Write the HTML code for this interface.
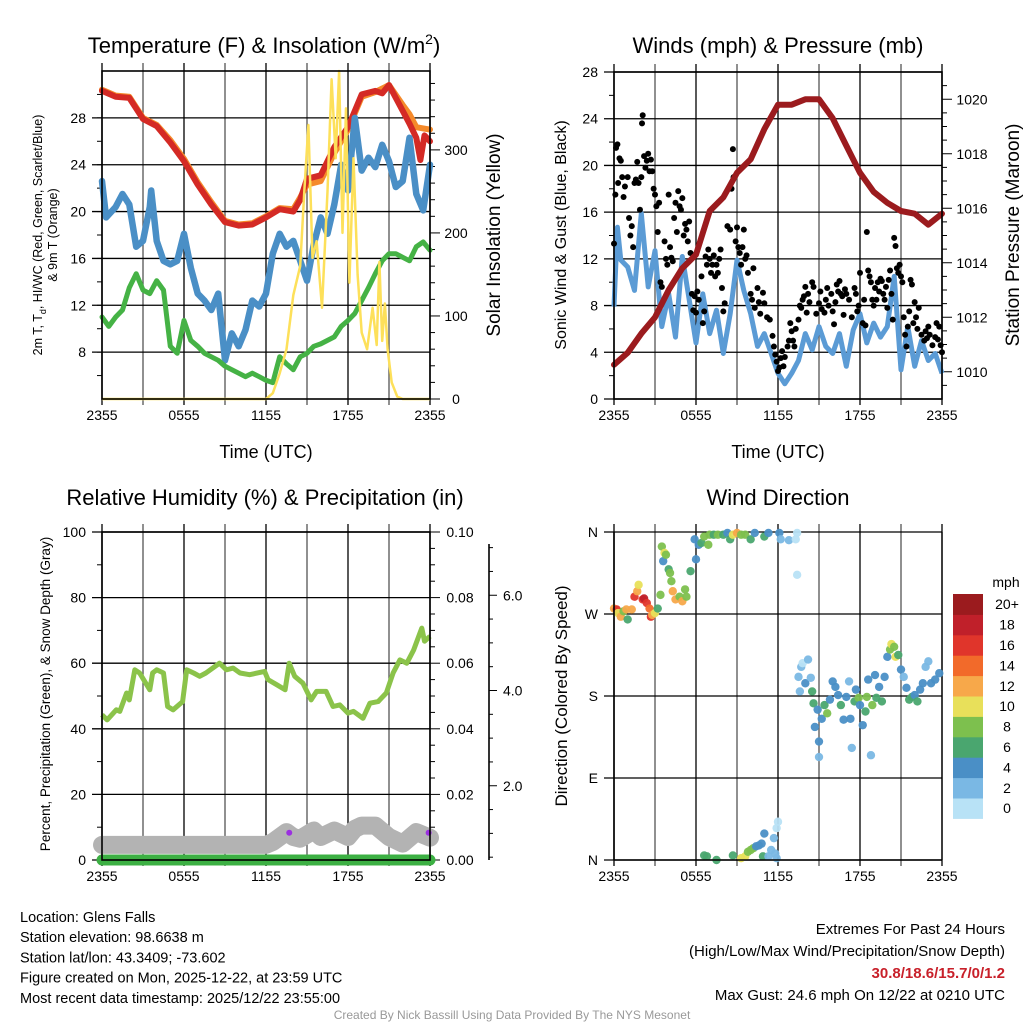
<!DOCTYPE html>
<html><head><meta charset="utf-8">
<style>
html,body{margin:0;padding:0;background:#fff;}
svg{display:block;font-family:"Liberation Sans",Arial,sans-serif;}
</style></head>
<body>
<svg id="c" width="1024" height="1024" viewBox="0 0 1024 1024" xmlns="http://www.w3.org/2000/svg">
<rect width="1024" height="1024" fill="#fff"/>
<g id="root"></g>
</svg>
<script>
// ---------- data ----------
const timeTicks = ["2355","0555","1155","1755","2355"];
const tempRed = [[0,30.3],[1,29.8],[2,29.7],[3,27.9],[4,27.3],[5,25.9],[6,24.3],[7,22.3],[8,20.6],[9,19.1],[10,18.8],[11,18.9],[12,19.5],[13,20.2],[14,20.0],[14.5,21],[15,22.8],[16,23.1],[17,25.5],[18,27.2],[19,30.0],[20,30.3],[20.5,30.1],[21,30.8],[22,28.6],[22.5,27.5],[23,26.3],[23.3,24.4],[23.6,26.5],[24,26.0]];
const temp9m = [[0,30.4],[1,29.9],[2,29.8],[3,28.0],[4,27.4],[5,26.1],[6,24.5],[7,22.5],[8,20.8],[9,19.2],[10,18.9],[11,19.0],[12,19.6],[13,20.3],[14,20.2],[14.5,21.2],[15,22.3],[16,22.6],[17,25.0],[18,27.0],[19,29.8],[20,30.2],[21,30.8],[22,29.1],[22.5,28.3],[23,27.2],[23.5,27.1],[24,27.0]];
const tempBlue = [[0,22.6],[0.3,19.5],[1,20.4],[1.5,21.5],[2,20.6],[2.5,17.0],[3,17.5],[3.5,20.4],[3.6,21.8],[4,17.5],[4.5,15.8],[5,15.5],[5.5,15.8],[6,18.1],[6.5,15.2],[7,13.0],[7.5,12.4],[8,11.6],[8.5,13.0],[9,7.3],[9.5,9.6],[10,8.5],[10.5,9.9],[11,12.4],[11.5,11.9],[12,13.0],[12.5,16.4],[13,18.1],[13.5,17.0],[14,17.5],[14.5,15.8],[15,14.1],[15.5,17.2],[16,19.5],[16.5,18.1],[17,20.6],[17.5,24.0],[18,21.8],[18.5,28.0],[19,23.5],[19.5,24.6],[20,23.8],[20.5,25.7],[21,24.3],[21.5,22.1],[22,22.6],[22.5,26.3],[23,21.5],[23.5,20.1],[24,24.0]];
const tempGreen = [[0,11.0],[0.5,10.2],[1,11.0],[1.5,11.6],[2,13.5],[2.5,14.7],[3,13.3],[3.5,13.0],[4,14.1],[4.5,13.3],[5,8.5],[5.5,7.9],[6,10.7],[6.5,9.0],[7,8.5],[7.5,7.9],[8,7.6],[8.5,7.3],[9,6.8],[9.5,6.5],[10,6.2],[10.5,5.9],[11,6.2],[11.5,5.9],[12,5.6],[12.5,5.4],[13,7.6],[13.5,7.0],[14,6.5],[14.5,7.6],[15,7.9],[15.5,8.5],[16,8.7],[16.5,9.0],[17,9.3],[17.5,10.2],[18,10.7],[18.5,11.3],[19,12.4],[19.5,13.5],[20,14.7],[20.5,15.8],[21,16.4],[21.5,16.4],[22,16.1],[22.5,15.8],[23,17.0],[23.5,17.4],[24,16.7]];
const insolation = [[0,0],[12,0],[12.5,7],[13,31],[13.5,60],[14,125],[14.5,160],[14.8,250],[15.1,330],[15.4,170],[15.7,190],[16.1,110],[16.5,250],[16.8,385],[17.1,290],[17.35,395],[17.6,200],[17.85,350],[18.1,140],[18.4,290],[18.7,150],[19.0,80],[19.4,60],[19.8,110],[20.1,65],[20.3,165],[20.5,70],[20.7,115],[20.9,60],[21.2,20],[21.6,3],[22,0],[24,0]];
const tempTicks = [8,12,16,20,24,28];
const insolTicks = [0,100,200,300];
const pressure = [[0,1010.26],[1,1010.7],[2,1011.4],[3,1012.0],[4,1013.0],[5,1013.8],[6,1014.3],[7,1015.9],[8,1016.4],[9,1017.3],[10,1017.8],[11,1018.9],[12,1019.8],[13,1019.8],[14,1020.0],[15,1020.0],[16,1019.3],[17,1018.3],[18,1017.3],[19,1016.6],[20,1016.2],[21,1015.9],[22,1015.8],[23,1015.4],[23.5,1015.6],[24,1015.8]];
const windSpeed = [[0,7.9],[0.25,14.7],[0.5,11.9],[1,11.3],[1.5,9.3],[2,15.9],[2.5,9.6],[3,12.7],[3.5,6.2],[4,9.0],[4.5,5.3],[5,12.2],[5.5,8.5],[6,4.8],[6.5,9.0],[7,5.6],[7.5,7.6],[8,3.9],[8.5,7.3],[9,11.9],[9.5,9.3],[10,7.3],[10.5,4.5],[11,5.6],[11.5,3.9],[12,2.2],[12.5,1.3],[13,2.2],[13.5,3.3],[14,5.6],[14.5,4.2],[15,6.2],[15.5,4.5],[16,3.9],[16.5,5.6],[17,2.8],[17.5,5.9],[18,7.3],[18.5,4.8],[19,6.5],[19.5,5.3],[20,6.2],[20.5,10.5],[21,2.5],[21.5,6.2],[22,2.8],[22.5,5.0],[23,3.3],[23.5,3.9],[24,2.2]];
const windGust = [[0,13.3],[0.1,17.5],[0.15,21.5],[0.25,21.8],[0.3,18.5],[0.4,20.6],[0.5,20.4],[0.6,19],[0.7,17.3],[0.8,18.2],[1,19],[1.1,15.5],[1.2,14],[1.3,14.8],[1.4,13],[1.5,18.5],[1.6,18.8],[1.7,20.3],[1.8,18.5],[1.9,16.2],[2,19],[2.05,23.6],[2.1,24.3],[2.2,20.8],[2.3,19.8],[2.4,20.4],[2.5,21],[2.6,19.5],[2.7,20.5],[2.8,19.5],[2.9,18],[3,17.5],[3.1,16.5],[3.2,14.3],[3.3,16.8],[3.4,10],[3.5,9.6],[3.7,13.5],[3.8,12],[3.9,11.5],[4,17.5],[4.1,13],[4.2,12.1],[4.3,11.8],[4.4,15.5],[4.5,16.8],[4.6,14.3],[4.7,17.8],[4.8,16.5],[4.9,16.2],[5,17.2],[5.1,14],[5.2,15],[5.3,14.5],[5.4,13.5],[5.5,15.2],[5.6,12.5],[5.7,9],[5.8,7.6],[5.9,8.8],[6,7.4],[6.1,9.2],[6.2,8.5],[6.4,10.5],[6.5,6.5],[6.6,7.5],[6.7,12.2],[6.8,11.5],[6.9,12.8],[7,12],[7.1,10.8],[7.2,11.5],[7.3,12.3],[7.4,10.5],[7.5,11.5],[7.6,10.8],[7.7,12],[7.8,12.8],[7.9,9.5],[8,7.5],[8.1,8.2],[8.3,14.8],[8.5,14.5],[8.6,18],[8.7,21.4],[8.75,19],[8.9,13.5],[9,14.7],[9.1,13],[9.2,12.5],[9.3,11.5],[9.4,13],[9.5,14.5],[9.6,12],[9.7,12.3],[9.8,10.8],[10,9],[10.1,8.5],[10.2,11.2],[10.3,7.8],[10.5,9.5],[10.6,8.3],[10.7,7.3],[10.9,9.1],[11,8.2],[11.2,7],[11.4,6.8],[11.6,5.4],[11.7,4.5],[11.8,3.8],[11.9,3.2],[12,2.4],[12.1,2.7],[12.2,3.5],[12.3,4.1],[12.4,2.8],[12.5,3.6],[12.7,4.5],[12.8,5],[12.9,6.5],[13,5.8],[13.1,5],[13.2,4.5],[13.3,6],[13.5,6.8],[13.6,8],[13.7,7.8],[13.8,8.5],[13.9,8.8],[14,9.6],[14.1,7.4],[14.2,9],[14.3,8.3],[14.5,10],[14.6,9.6],[14.8,7.3],[15,8.2],[15.1,9.2],[15.2,7.7],[15.4,7.4],[15.5,8.5],[15.6,9.5],[15.7,8],[15.9,9],[16,7.5],[16.1,6.4],[16.2,8.3],[16.3,9.8],[16.4,9.2],[16.5,10.1],[16.6,9],[16.7,8.8],[16.8,7.2],[16.9,9.4],[17,9],[17.2,8.5],[17.4,7],[17.6,9.5],[17.7,9],[17.8,7.5],[17.9,8],[18,10.8],[18.2,6.5],[18.3,8.5],[18.4,6.3],[18.5,14.3],[18.6,11],[18.7,10.5],[18.8,10],[18.9,8.5],[19,8],[19.1,9.5],[19.2,8.5],[19.3,10],[19.4,9.2],[19.5,10.3],[19.6,10.1],[19.7,9],[19.8,8.5],[19.9,9.6],[20,7.8],[20.1,10.2],[20.2,11],[20.3,9],[20.4,6.8],[20.5,13.8],[20.6,13.1],[20.7,11.2],[20.8,10.8],[20.9,11.5],[21,10.5],[21.1,10],[21.2,7],[21.3,5.5],[21.4,4.5],[21.5,6.2],[21.6,7.5],[21.7,10.2],[21.8,9.8],[21.9,6.5],[22,8.3],[22.1,7],[22.2,6],[22.3,7.8],[22.5,5.5],[22.7,5],[22.8,5.8],[22.9,5.2],[23,6.2],[23.1,5.5],[23.3,4.6],[23.5,5.3],[23.6,6.5],[23.7,5.1],[23.8,6.2],[23.9,4.6],[24,4]];
const windTicks = [0,4,8,12,16,20,24,28];
const pressTicks = [1010,1012,1014,1016,1018,1020];
const rh = [[0,44.3],[0.37,42.7],[1.05,45.8],[1.3,45.3],[1.8,50.9],[2.0,48.8],[2.4,58],[2.75,57],[3.5,51.9],[3.7,57],[4.0,58],[4.5,57],[4.8,46.8],[5.2,45.8],[5.9,48.3],[6.2,58],[6.7,57],[7.15,56],[7.6,57],[8.6,60],[9.1,58],[9.6,58.5],[10.1,57],[10.8,56.5],[11.9,57.5],[12.15,55],[12.8,53.4],[13.4,51.9],[13.7,60],[14.1,56],[14.7,53.9],[15.3,48.8],[15.7,51.4],[16.4,51.4],[16.9,46.8],[17.4,47.3],[18.0,44.8],[18.4,45.3],[19.1,43.2],[19.6,47.8],[20.2,48.3],[20.8,50.9],[21.3,57],[21.8,61],[22.3,60],[22.8,64],[23.4,70.7],[23.6,66.7],[24,68.2]];
const precip = [[0,0],[24,0]];
const snowDepth = [[0,4.6],[12,4.6],[12.5,5.5],[13.5,8.5],[14,7],[14.5,6.5],[15.5,9],[16,7],[17,9],[18,7],[18.5,9.5],[19,10.5],[20,10.5],[21,7],[22,5],[23,8.5],[24,6.8]];
const rhTicks = [0,20,40,60,80,100];
const precipTicks = ["0.00","0.02","0.04","0.06","0.08","0.10"];
const snowTicks = ["2.0","4.0","6.0"];
const windDir = [[0,276,12],[0.2,275,16],[0.3,271,10],[0.5,267,12],[0.7,273,9],[0.9,275,12],[1.0,264,7],[1.3,275,12],[1.5,289,16],[1.7,295,12],[1.8,302,10],[2.1,286,16],[2.2,287,18],[2.4,282,16],[2.6,276,14],[2.7,267,16],[2.8,269,12],[3.0,271,10],[3.2,276,6],[3.4,291,8],[3.5,344,8],[3.6,328,4],[3.7,337,10],[3.8,335,8],[4.0,319,6],[4.1,315,8],[4.2,306,8],[4.3,295,12],[4.5,286,12],[4.8,289,8],[5.0,284,12],[5.2,297,8],[5.3,289,8],[5.6,317,6],[5.9,352,4],[6.0,330,4],[6.2,346,4],[6.4,348,6],[6.6,355,8],[6.9,346,8],[7.0,357,8],[7.3,357,6],[7.6,357,8],[8.0,357,6],[8.3,359,4],[8.5,352,6],[8.7,357,10],[9.0,359,12],[9.3,357,8],[9.6,357,8],[10.0,352,6],[10.3,359,4],[11.0,355,6],[11.3,359,4],[12.1,359,4],[12.2,352,2],[12.8,351,2],[13.3,352,0],[13.4,359,0],[13.4,313,0],
[6.6,5,6],[6.8,4,6],[7.5,0,6],[8.7,5,6],[9.3,2,10],[9.6,4,10],[9.8,9,8],[10.0,11,8],[10.2,13,8],[10.4,15,4],[10.6,16,4],[10.8,18,4],[11.0,29,4],[10.9,4,6],[11.3,4,2],[11.5,11,2],[11.7,24,2],[11.9,35,0],[12.0,42,0],[11.8,7,2],[11.9,2,2],
[13.5,201,2],[13.6,185,2],[13.7,212,2],[13.8,216,0],[14.0,194,4],[14.2,220,2],[14.4,200,2],[14.5,185,6],[14.6,172,6],[14.7,146,4],[14.9,165,4],[15.0,130,4],[15.0,113,2],[15.2,155,4],[15.4,170,6],[15.6,161,8],[15.8,176,4],[16.0,196,4],[16.2,190,4],[16.4,181,4],[16.6,170,6],[16.8,154,4],[17.0,179,4],[17.2,196,2],[17.3,155,4],[17.4,123,2],[17.6,174,6],[17.7,187,4],[17.9,178,8],[18.0,170,4],[18.2,148,4],[18.4,163,6],[18.5,179,8],[18.6,198,4],[18.8,115,2],[18.9,170,8],[19.1,203,4],[19.2,178,6],[19.4,190,4],[19.6,174,6],[19.8,201,4],[20.0,223,4],[20.2,231,8],[20.3,237,10],[20.5,234,8],[20.6,223,10],[20.8,225,6],[21.0,209,4],[21.2,201,2],[21.4,189,4],[21.6,176,6],[21.8,179,6],[22.0,181,4],[22.2,174,6],[22.4,187,4],[22.6,194,4],[22.8,212,2],[23.0,218,2],[23.2,194,4],[23.5,198,4],[23.8,205,4]];
const dirLabels = ["N","E","S","W","N"];
const speedLabels = ["0","2","4","6","8","10","12","14","16","18","20+"];
const speedColors = ["#b8e2f6","#7ab8e4","#4a8fc6","#4aa66f","#7dc04e","#e8e05a","#f7a84a","#f26a2a","#e0352b","#c0202a","#9b1b1e"];

// ---------- drawing ----------
const NS="http://www.w3.org/2000/svg";
const root=document.getElementById('root');
function el(tag,attrs,parent){const e=document.createElementNS(NS,tag);for(const k in attrs)e.setAttribute(k,attrs[k]);(parent||root).appendChild(e);return e;}
function txt(s,attrs,parent){const e=el('text',attrs,parent);e.textContent=s;return e;}
function lin(d0,d1,r0,r1){return v=>r0+(v-d0)/(d1-d0)*(r1-r0);}
function pathOf(data,fx,fy){return data.map((p,i)=>(i?'L':'M')+fx(p[0]).toFixed(1)+','+fy(p[1]).toFixed(1)).join('');}

function frame(L,R,T,B,name){
  const g=el('g',{});
  
  
  const fx=lin(0,24,L,R);
  for(let h=0;h<=24;h+=3){
    const x=fx(h);
    el('line',{x1:x,y1:T-8,x2:x,y2:B+6,stroke:(h%6===0)?'#000':'#555','stroke-width':1.3},g);
  }
  timeTicks.forEach((t,i)=>{
    const tl=txt(t,{x:fx(i*6),y:B+21,'font-size':14,'text-anchor':'middle'},g);
    
    
  });
  return {g,fx};
}
function hgrid(g,L,R,ys){ys.forEach(y=>el('line',{x1:L-10,y1:y,x2:R,y2:y,stroke:'#000','stroke-width':1.3},g));}
function border(g,L,R,T,B){el('rect',{x:L,y:T,width:R-L,height:B-T,fill:'none',stroke:'#000','stroke-width':1.6},g);}

// ===== Panel 1 =====
(function(){
  const L=102,R=430,T=71,B=399;
  const {g,fx}=frame(L,R,T,B,'temperature-panel');
  const fy=lin(4,32,B,T), fyr=lin(0,395,B,T);
  hgrid(g,L,R,tempTicks.map(fy));
  for(let v=6;v<=30;v+=2){el('line',{x1:L-5,y1:fy(v),x2:L,y2:fy(v),stroke:'#000'},g);}
  tempTicks.forEach(v=>{const t=txt(v,{x:L-16,y:fy(v)+5,'font-size':14,'text-anchor':'end'},g);});
  for(let v=0;v<=380;v+=20){el('line',{x1:R,y1:fyr(v),x2:R+(v%100===0?10:5),y2:fyr(v),stroke:'#000'},g);}
  insolTicks.forEach(v=>{const t=txt(v,{x:R+26,y:fyr(v)+5,'font-size':14,'text-anchor':'middle'},g);});
  const s=[[temp9m,'#f58a2b',6,'orange-9m-temp-line'],[tempRed,'#d42a25',6,'red-2m-temp-line'],[tempBlue,'#4a8fc6',6.5,'blue-windchill-line'],[tempGreen,'#45b245',5,'green-dewpoint-line']];
  s.forEach(([d,c,w,n])=>{const p=el('path',{d:pathOf(d,fx,fy),fill:'none',stroke:c,'stroke-width':w,'stroke-linejoin':'round','stroke-linecap':'round'},g);});
  const ip=el('path',{d:pathOf(insolation,fx,fyr),fill:'none',stroke:'#fde05a','stroke-width':2.5,'stroke-linejoin':'round'},g);
  
  
  border(g,L,R,T,B);
  const t1=txt('Temperature (F) & Insolation (W/m',{x:264,y:53,'font-size':22,'text-anchor':'middle'},g);
  
  const sup=el('tspan',{dy:-9,'font-size':14},t1);sup.textContent='2';
  const cl=el('tspan',{dy:9},t1);cl.textContent=')';
  const xt=txt('Time (UTC)',{x:266,y:458,'font-size':18,'text-anchor':'middle'},g);
  
  const yl=txt('',{x:0,y:0,'font-size':12.5,'text-anchor':'middle',transform:'translate(42,235) rotate(-90)'},g);
  
  yl.innerHTML='2m T, T<tspan dy="4" font-size="9">d</tspan><tspan dy="-4">, HI/WC (Red, Green, Scarlet/Blue)</tspan>';
  const yl2=txt('& 9m T (Orange)',{x:0,y:0,'font-size':12.5,'text-anchor':'middle',transform:'translate(57,235) rotate(-90)'},g);
  
  const yr=txt('Solar Insolation (Yellow)',{x:0,y:0,'font-size':19,'text-anchor':'middle',transform:'translate(500,235) rotate(-90)'},g);
  
})();

// ===== Panel 2 =====
(function(){
  const L=614,R=942,T=72,B=399;
  const {g,fx}=frame(L,R,T,B,'winds-panel');
  const fy=lin(0,28,B,T), fyr=lin(1009,1021,B,T);
  hgrid(g,L,R,windTicks.map(fy));
  for(let v=2;v<=26;v+=4){el('line',{x1:L-5,y1:fy(v),x2:L,y2:fy(v),stroke:'#000'},g);}
  windTicks.forEach(v=>{const t=txt(v,{x:L-16,y:fy(v)+5,'font-size':14,'text-anchor':'end'},g);});
  for(let v=1009.5;v<=1020.5;v+=0.5){el('line',{x1:R,y1:fyr(v),x2:R+(v%2===0?10:5),y2:fyr(v),stroke:'#000'},g);}
  pressTicks.forEach(v=>{const t=txt(v,{x:R+30,y:fyr(v)+5,'font-size':14,'text-anchor':'middle'},g);});
  const wp=el('path',{d:pathOf(windSpeed,fx,fy),fill:'none',stroke:'#5b9bd5','stroke-width':5,'stroke-linejoin':'round'},g);
  
  windGust.forEach(p=>{const c=el('circle',{cx:fx(p[0]),cy:fy(p[1]),r:3,fill:'#000'},g);});
  const pp=el('path',{d:pathOf(pressure,fx,fyr),fill:'none',stroke:'#9b1b1e','stroke-width':6,'stroke-linejoin':'round','stroke-linecap':'round'},g);
  
  border(g,L,R,T,B);
  const t1=txt('Winds (mph) & Pressure (mb)',{x:778,y:53,'font-size':22,'text-anchor':'middle'},g);
  
  const xt=txt('Time (UTC)',{x:778,y:458,'font-size':18,'text-anchor':'middle'},g);
  
  const yl=txt('Sonic Wind & Gust (Blue, Black)',{x:0,y:0,'font-size':16,'text-anchor':'middle',transform:'translate(566,235) rotate(-90)'},g);
  
  const yr=txt('Station Pressure (Maroon)',{x:0,y:0,'font-size':19,'text-anchor':'middle',transform:'translate(1019,235) rotate(-90)'},g);
  
})();

// ===== Panel 3 =====
(function(){
  const L=102,R=430,T=532,B=860;
  const {g,fx}=frame(L,R,T,B,'humidity-panel');
  const fy=lin(0,100,B,T);
  hgrid(g,L,R,rhTicks.map(fy));
  for(let v=10;v<=90;v+=20){el('line',{x1:L-5,y1:fy(v),x2:L,y2:fy(v),stroke:'#000'},g);}
  rhTicks.forEach(v=>{const t=txt(v,{x:L-16,y:fy(v)+5,'font-size':14,'text-anchor':'end'},g);});
  for(let v=0;v<=100;v+=5){el('line',{x1:R,y1:fy(v),x2:R+(v%20===0?10:5),y2:fy(v),stroke:'#000'},g);}
  precipTicks.forEach((s,i)=>{const t=txt(s,{x:R+30,y:fy(i*20)+5,'font-size':14,'text-anchor':'middle'},g);});
  const fys=lin(0,8,881,500);
  el('line',{x1:489,y1:544,x2:489,y2:860,stroke:'#000','stroke-width':1.6},g);
  for(let v=0.5;v<=7;v+=0.5){const y=fys(v);if(y>=544&&y<=860)el('line',{x1:489,y1:y,x2:489+(v%2===0?8:4),y2:y,stroke:'#000'},g);}
  snowTicks.forEach(s=>{const t=txt(s,{x:503,y:fys(parseFloat(s))+5,'font-size':14},g);});
  const sp=el('path',{d:pathOf(snowDepth,fx,fy),fill:'none',stroke:'#b3b3b3','stroke-width':18,'stroke-linejoin':'round','stroke-linecap':'round'},g);
  
  [[13.7,8.3],[23.9,8.3]].forEach(p=>{const c=el('circle',{cx:fx(p[0]),cy:fy(p[1]),r:3,fill:'#9b30e0'},g);});
  const pr=el('path',{d:pathOf(precip,fx,fy),fill:'none',stroke:'#3cb043','stroke-width':11,'stroke-linecap':'round'},g);
  
  const rp=el('path',{d:pathOf(rh,fx,fy),fill:'none',stroke:'#8bc34a','stroke-width':5,'stroke-linejoin':'round'},g);
  
  border(g,L,R,T,B);
  const t1=txt('Relative Humidity (%) & Precipitation (in)',{x:265,y:505,'font-size':22,'text-anchor':'middle'},g);
  
  const yl=txt('Percent, Precipitation (Green), & Snow Depth (Gray)',{x:0,y:0,'font-size':13.5,'text-anchor':'middle',transform:'translate(50,694) rotate(-90)'},g);
  
})();

// ===== Panel 4 =====
(function(){
  const L=614,R=942,T=532,B=860;
  const {g,fx}=frame(L,R,T,B,'wind-direction-panel');
  const fy=lin(0,360,B,T);
  hgrid(g,L,R,[0,90,180,270,360].map(fy));
  dirLabels.forEach((s,i)=>{const t=txt(s,{x:L-16,y:fy(i*90)+5,'font-size':14,'text-anchor':'end'},g);});
  el('line',{x1:R,y1:T,x2:R,y2:B,stroke:'#000','stroke-width':1.3},g);
  windDir.forEach(p=>{const idx=Math.min(10,Math.floor(p[2]/2));const c=el('circle',{cx:fx(p[0]),cy:fy(p[1]),r:4.2,fill:speedColors[idx],'fill-opacity':0.95},g);});
  el('line',{x1:L,y1:T,x2:L,y2:B,stroke:'#000','stroke-width':1.6},g);
  el('line',{x1:L,y1:B,x2:R,y2:B,stroke:'#000','stroke-width':1.6},g);
  const t1=txt('Wind Direction',{x:778,y:505,'font-size':22,'text-anchor':'middle'},g);
  
  const yl=txt('Direction (Colored By Speed)',{x:0,y:0,'font-size':17,'text-anchor':'middle',transform:'translate(567,696) rotate(-90)'},g);
  
  const cb=el('g',{});
  
  const bh=20.4, top=594;
  speedLabels.forEach((s,i)=>{
    const j=10-i;
    el('rect',{x:953,y:top+j*bh,width:30,height:bh+0.5,fill:speedColors[i]},cb);
    const t=txt(s,{x:1007,y:top+j*bh+bh/2+5,'font-size':14,'text-anchor':'middle'},cb);
    
  });
  const u=txt('mph',{x:1006,y:587,'font-size':14,'text-anchor':'middle'},cb);
  
})();

// ===== Footer =====
(function(){
  const g=el('g',{});
  
  ["Location: Glens Falls","Station elevation: 98.6638 m","Station lat/lon: 43.3409; -73.602","Figure created on Mon, 2025-12-22, at 23:59 UTC","Most recent data timestamp: 2025/12/22 23:55:00"].forEach((s,i)=>{
    const t=txt(s,{x:20,y:922+i*20.2,'font-size':14.5},g);
    
  });
  const r=[["Extremes For Past 24 Hours",934,'#000','normal'],["(High/Low/Max Wind/Precipitation/Snow Depth)",956,'#000','normal'],["30.8/18.6/15.7/0/1.2",978,'#c8202a','bold'],["Max Gust: 24.6 mph On 12/22 at 0210 UTC",1000,'#000','normal']];
  r.forEach(([s,y,c,w])=>{const t=txt(s,{x:1005,y:y,'font-size':15,'text-anchor':'end',fill:c,'font-weight':w},g);});
  const cr=txt('Created By Nick Bassill Using Data Provided By The NYS Mesonet',{x:512,y:1019,'font-size':12,'text-anchor':'middle',fill:'#999'},g);
  
})();
</script>
</body></html>
